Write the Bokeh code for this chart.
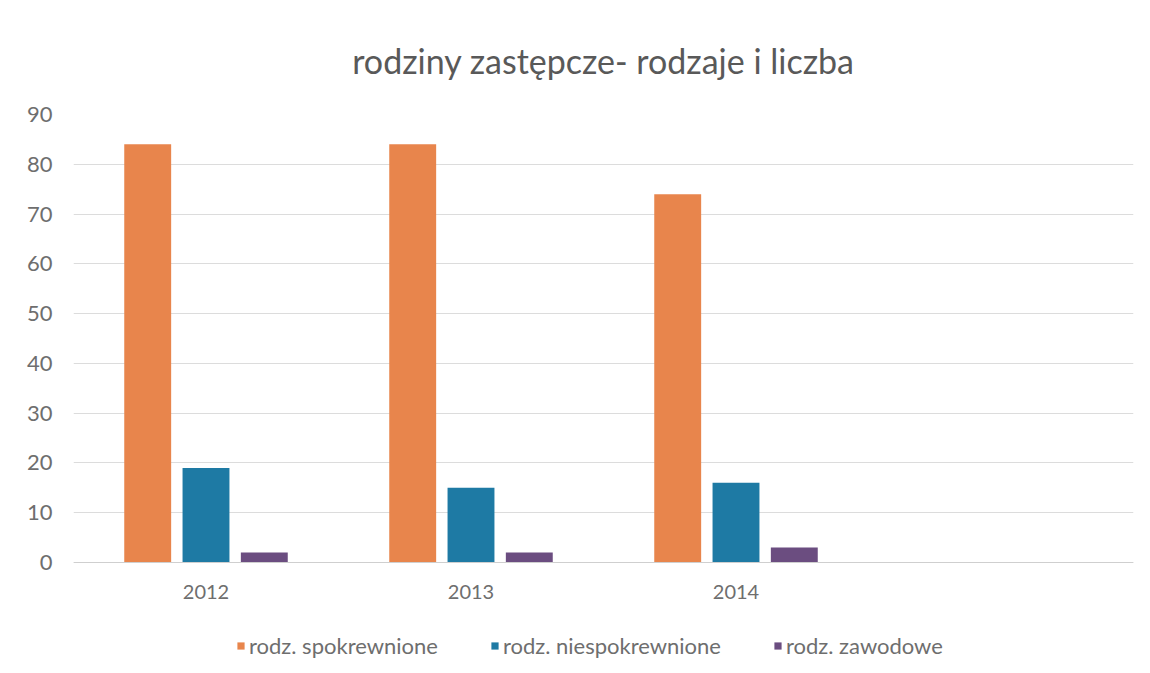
from bokeh.plotting import figure
from bokeh.models import ColumnDataSource, Legend, LegendItem, FactorRange, Range1d, FixedTicker
from bokeh.transform import dodge
from bokeh.embed import file_html
from bokeh.resources import INLINE

years = ["2012", "2013", "2014", " "]
spokrewnione = [84, 84, 74, 0]
niespokrewnione = [19, 15, 16, 0]
zawodowe = [2, 2, 3, 0]
series_names = ["rodz. spokrewnione", "rodz. niespokrewnione", "rodz. zawodowe"]
colors = ["#E8854C", "#1E7AA4", "#6B4D80"]
y_ticks = [0, 10, 20, 30, 40, 50, 60, 70, 80, 90]

src = ColumnDataSource(dict(year=years[:3], s=spokrewnione[:3], n=niespokrewnione[:3], z=zawodowe[:3]))

FONT = "Lato"
PLOT_H = 448      # pixels between 0 and 90
FRAME_H = 551     # frame extended below 0 to host labels and legend
y_start = -90.0 * (FRAME_H - PLOT_H) / PLOT_H

p = figure(frame_width=1060, frame_height=FRAME_H, x_range=FactorRange(*years),
           y_range=Range1d(y_start, 90),
           output_backend="svg", toolbar_location=None,
           min_border_left=73, min_border_right=9, min_border_top=114, min_border_bottom=0)

p.title.text = "rodziny zastępcze- rodzaje i liczba"
p.title.align = "center"
p.title.text_font = FONT
p.title.text_font_size = "34px"
p.title.text_font_style = "normal"
p.title.text_color = "#595959"
p.title.offset = 0
p.title.standoff = 67

bars = []
for col, off, c in zip(["s", "n", "z"], [-0.22, 0.0, 0.22], colors):
    r = p.vbar(x=dodge("year", off, range=p.x_range), top=col, width=0.177, source=src,
               fill_color=c, line_color=None)
    bars.append(r)

p.outline_line_color = None
p.xgrid.grid_line_color = None
p.ygrid.grid_line_color = "#DCDCDC"
p.ygrid.grid_line_width = 1

p.yaxis.ticker = FixedTicker(ticks=y_ticks)
p.yaxis.axis_line_color = None
p.yaxis.major_tick_line_color = None
p.yaxis.minor_tick_line_color = None
p.yaxis.major_label_text_font = FONT
p.yaxis.major_label_text_font_size = "22px"
p.yaxis.major_label_text_color = "#6E6E6E"
p.yaxis.major_label_standoff = 15

p.xaxis.fixed_location = 0
p.xaxis.axis_line_color = "#CFCFCF"
p.xaxis.major_tick_line_color = None
p.xaxis.minor_tick_line_color = None
p.xaxis.major_label_text_font = FONT
p.xaxis.major_label_text_font_size = "20px"
p.xaxis.major_label_text_color = "#6E6E6E"
p.xaxis.major_label_standoff = 10

legend = Legend(items=[LegendItem(label=n, renderers=[r]) for n, r in zip(series_names, bars)],
                orientation="horizontal", location=(163, 6))
legend.label_text_font = FONT
legend.label_text_font_size = "22px"
legend.label_text_color = "#6E6E6E"
legend.glyph_width = 9
legend.glyph_height = 9
legend.label_standoff = 4
legend.spacing = 52
legend.border_line_color = None
legend.background_fill_alpha = 0
legend.margin = 0
legend.padding = 0
p.add_layout(legend, "center")

open("out.html", "w").write(file_html(p, INLINE))
